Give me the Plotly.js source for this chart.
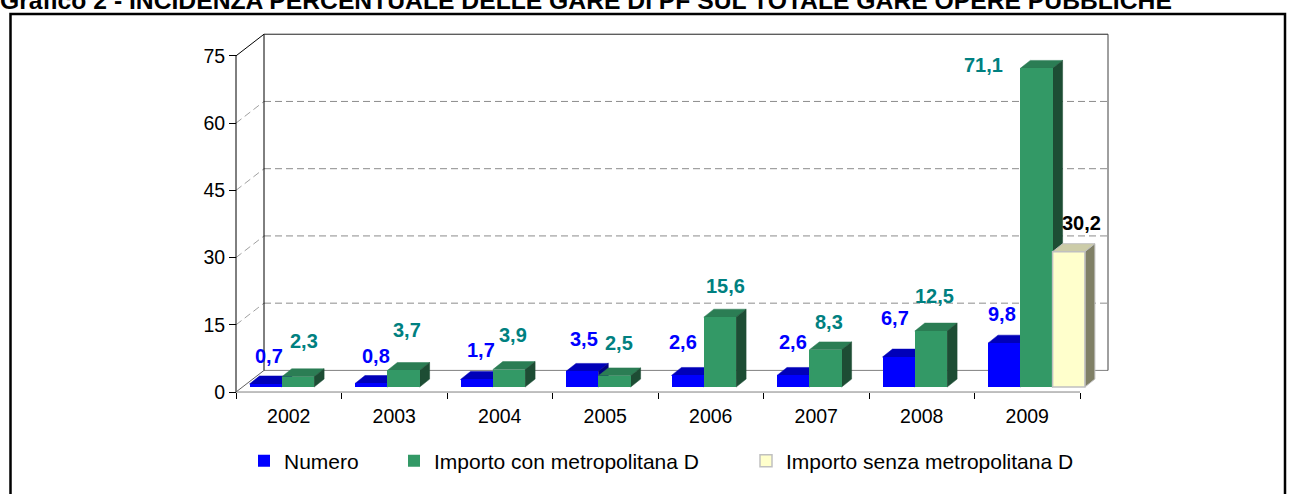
<!DOCTYPE html>
<html><head><meta charset="utf-8">
<script src="https://cdn.plot.ly/plotly-3.0.1.min.js"></script>
<style>html,body{margin:0;padding:0;background:#fff;} #chart{width:1295px;height:494px;}</style>
</head><body><div id="chart"></div>
<script>
// ---- data ----
const years = ['2002','2003','2004','2005','2006','2007','2008','2009'];
const numero = [0.7, 0.8, 1.7, 3.5, 2.6, 2.6, 6.7, 9.8];
const importoCon = [2.3, 3.7, 3.9, 2.5, 15.6, 8.3, 12.5, 71.1];
const importoSenza = [null, null, null, null, null, null, null, 30.2];
const yTicks = [0, 15, 30, 45, 60, 75];
const seriesNames = ['Numero', 'Importo con metropolitana D', 'Importo senza metropolitana D'];

// ---- label nudges (px), style only ----
const labelDx = [[3,4.5,4,2,-4.7,0,-4,-2],[6,3.5,4,5,6,3.5,4,-53],[0,0,0,0,0,0,0,12.7]];
const labelLift = [[28,27,29,32,33,33,39,29],[36,40,35,33,31,28,35,3.5],[0,0,0,0,0,0,0,29]];

// ---- geometry (oblique 3D look) ----
const W = 1295, H = 494;
const PL = 220, PR = 1120, PT = 28, PB = 400;          // plot area in px
const X0PX = 236, XUNIT = 105.5, Y0PX = 394, YUNIT = 338/75;
const xr = [(PL - X0PX)/XUNIT, (PR - X0PX)/XUNIT];
const yr = [(Y0PX - PB)/YUNIT, (Y0PX - PT)/YUNIT];
const DX = 28/XUNIT, DY = 21.75/YUNIT;                   // wall depth
const BASE = 5/YUNIT, BX0 = 13.5/XUNIT, BW = 32.3/XUNIT; // bar placement
const DDX = 10/XUNIT, DDY = 8/YUNIT;                      // bar depth
const px2paperX = p => (p - PL)/(PR - PL);
const px2paperY = p => (PB - p)/(PB - PT);
const YMAX = yTicks[yTicks.length-1], NC = years.length;

const styles = [
  {front:'#0000FF', top:'#0000B8', side:'#000080', label:'#0000FF', line:'#0000FF', lw:0},
  {front:'#339966', top:'#2B7D54', side:'#1D4D34', label:'#008080', line:'#339966', lw:0},
  {front:'#FFFFCC', top:'#CCCCA8', side:'#808066', label:'#000000', line:'#C0C0C0', lw:1.5}
];
const allSeries = [numero, importoCon, importoSenza];

const shapes = [];
function seg(x0,y0,x1,y1,color,dash,width){
  shapes.push({type:'line', xref:'x', yref:'y', x0, y0, x1, y1, layer:'below',
    line:{color, width: width||1, dash: dash||'solid'}});
}
// back-wall grid and left-wall grid diagonals
yTicks.forEach(v => {
  if (v > 0 && v < YMAX) {
    seg(DX, v+DY, NC+DX, v+DY, '#8C8C8C', '7px,4px');
    seg(0, v, DX, v+DY, '#A0A0A0', '7px,4px');
  }
});
// walls frame
seg(DX, DY, NC+DX, DY, '#808080');
seg(DX, DY, DX, YMAX+DY, '#000000');
seg(DX, YMAX+DY, NC+DX, YMAX+DY, '#202020');
seg(NC+DX, YMAX+DY, NC+DX, DY, '#404040');
seg(0, YMAX, DX, YMAX+DY, '#000000');
seg(0, 0, DX, DY, '#606060');
seg(0, 0, 0, YMAX, '#000000');
seg(0, 0, NC, 0, '#808080');

// bar top & side faces
const path = pts => 'M' + pts.map(p => p[0] + ',' + p[1]).join('L') + 'Z';
for (let i = 0; i < NC; i++) {
  allSeries.forEach((arr, s) => {
    const v = arr[i];
    if (v === null || v === undefined) return;
    const xl = i + BX0 + s*BW, xrr = xl + BW, yt = BASE + v;
    const st = styles[s];
    shapes.push({type:'path', xref:'x', yref:'y', layer:'below', fillcolor: st.top,
      line:{color: st.lw ? st.line : st.top, width: st.lw ? 1 : 0.5},
      path: path([[xl,yt],[xrr,yt],[xrr+DDX,yt+DDY],[xl+DDX,yt+DDY]])});
    shapes.push({type:'path', xref:'x', yref:'y', layer:'below', fillcolor: st.side,
      line:{color: st.lw ? st.line : st.side, width: st.lw ? 1 : 0.5},
      path: path([[xrr,BASE],[xrr,yt],[xrr+DDX,yt+DDY],[xrr+DDX,BASE+DDY]])});
  });
}
// outer frame
shapes.push({type:'rect', xref:'paper', yref:'paper', layer:'above',
  x0: px2paperX(10.5), x1: px2paperX(1285), y0: px2paperY(14), y1: px2paperY(530),
  line:{color:'#000', width:2.5}, fillcolor:'rgba(0,0,0,0)'});

// bar traces (front faces)
const legendIds = ['legend', 'legend2', 'legend3'];
const traces = allSeries.map((arr, s) => ({
  type:'bar', name: seriesNames[s], legend: legendIds[s], showlegend: true,
  x: years.map((_, i) => i + BX0 + (s + 0.5)*BW),
  y: arr, base: BASE, width: BW,
  marker:{color: styles[s].front, line:{color: styles[s].line, width: styles[s].lw}},
  hoverinfo:'skip'
}));

const FONT = 'Arial, "Liberation Sans", sans-serif';

// data labels
const annotations = [];
allSeries.forEach((arr, s) => {
  arr.forEach((v, i) => {
    if (v === null || v === undefined) return;
    annotations.push({xref:'x', yref:'y', x: i + BX0 + (s + 0.5)*BW, y: BASE + v,
      xshift: labelDx[s][i], yshift: labelLift[s][i], showarrow:false,
      text: v.toFixed(1).replace('.', ','),
      font:{family: FONT, size:20, color: styles[s].label, weight:'bold'}});
  });
});

const legendBase = {orientation:'h', xanchor:'left', yanchor:'middle', y: px2paperY(463.5),
  bgcolor:'rgba(0,0,0,0)', borderwidth:0, font:{family: FONT, size:21, color:'#000'}};
const legendPx = [244, 394, 746];

const layout = {
  width: W, height: H, showlegend: true,
  margin:{l: PL, r: W - PR, t: PT, b: H - PB, pad:0},
  paper_bgcolor:'#ffffff', plot_bgcolor:'rgba(0,0,0,0)',
  barmode:'overlay', bargap:0,
  title:{text:'Grafico 2 - INCIDENZA PERCENTUALE DELLE GARE DI PF SUL TOTALE GARE OPERE PUBBLICHE',
    font:{family: FONT, size:24.7, color:'#000', weight:'bold'},
    x:0, xref:'container', xanchor:'left', y: 1, yref:'container', yanchor:'middle',
    pad:{l:0, r:0, t:0, b:0}},
  xaxis:{range: xr, anchor:'free', position: px2paperY(Y0PX), showgrid:false, zeroline:false, showline:false,
    tickmode:'array', tickvals: years.map((_, i) => i + 0.5), ticktext: years, ticks:'',
    ticklabelstandoff: 10,
    minor:{tickmode:'array', tickvals: years.map((_, i) => i).concat([NC]), ticks:'outside', ticklen:6,
      tickcolor:'#000', tickwidth:1, showgrid:false},
    tickfont:{family: FONT, size:19.5, color:'#000'}, fixedrange:true},
  yaxis:{range: yr, anchor:'free', position: px2paperX(X0PX), showgrid:false, zeroline:false, showline:false,
    tickmode:'array', tickvals: yTicks, ticks:'outside', ticklen:7, tickcolor:'#000', tickwidth:1,
    tickfont:{family: FONT, size:19.5, color:'#000'}, fixedrange:true},
  legend: Object.assign({}, legendBase, {x: px2paperX(legendPx[0])}),
  legend2: Object.assign({}, legendBase, {x: px2paperX(legendPx[1])}),
  legend3: Object.assign({}, legendBase, {x: px2paperX(legendPx[2])}),
  shapes, annotations
};
Plotly.newPlot('chart', traces, layout, {staticPlot:true, displayModeBar:false});
</script></body></html>
